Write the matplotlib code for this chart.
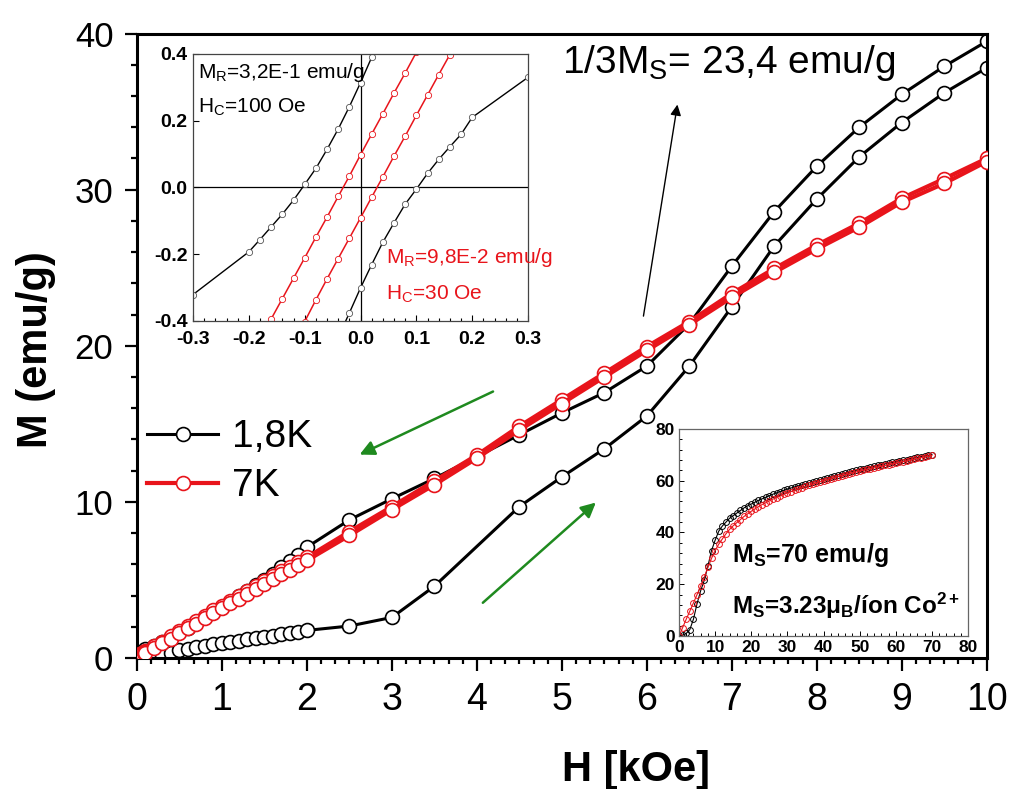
import matplotlib
matplotlib.use("Agg")
import matplotlib.pyplot as plt
from matplotlib.ticker import MultipleLocator, AutoMinorLocator, FixedLocator, FixedFormatter
from matplotlib.lines import Line2D

plt.rcParams['font.family'] = ['Liberation Sans', 'DejaVu Sans']
plt.rcParams['mathtext.fontset'] = 'custom'
plt.rcParams['mathtext.rm'] = 'Liberation Sans'
plt.rcParams['mathtext.it'] = 'Liberation Sans:italic'
plt.rcParams['mathtext.bf'] = 'Liberation Sans:bold'

# ---------------- main panel: M(H) at 1.8 K and 7 K ----------------
# 1.8 K, first magnetisation (virgin) curve
h_18_up = [0.0, 0.1, 0.2, 0.3, 0.4, 0.5, 0.6, 0.7, 0.8, 0.9, 1.0,
           1.1, 1.2, 1.3, 1.4, 1.5, 1.6, 1.7, 1.8, 1.9, 2.0,
           2.5, 3.0, 3.5, 4.5, 5.0, 5.5, 6.0, 6.5, 7.0, 7.5, 8.0, 8.5, 9.0, 9.5, 10.0]
m_18_up = [0.0, 0.02, 0.08, 0.2, 0.35, 0.5, 0.61, 0.71, 0.8, 0.88, 0.95,
           1.03, 1.11, 1.19, 1.27, 1.35, 1.43, 1.51, 1.59, 1.68, 1.77,
           2.05, 2.6, 4.6, 9.7, 11.6, 13.4, 15.5, 18.7, 22.5, 26.4, 29.4, 32.1, 34.3, 36.2, 37.8]

# 1.8 K, decreasing field branch
h_18_down = [10.0, 9.5, 9.0, 8.5, 8.0, 7.5, 7.0, 6.5, 6.0, 5.5, 5.0, 4.5, 4.0, 3.5, 3.0, 2.5,
             2.0, 1.9, 1.8, 1.7, 1.6, 1.5, 1.4, 1.3, 1.2, 1.1, 1.0,
             0.9, 0.8, 0.7, 0.6, 0.5, 0.4, 0.3, 0.2, 0.1, 0.0]
m_18_down = [39.5, 37.9, 36.1, 34.0, 31.5, 28.6, 25.1, 21.4, 18.7, 17.0, 15.7, 14.3, 12.9, 11.5, 10.2, 8.85,
             7.1, 6.6, 6.2, 5.8, 5.4, 5.0, 4.65, 4.3, 3.95, 3.6, 3.3,
             2.95, 2.6, 2.3, 1.95, 1.65, 1.35, 1.05, 0.8, 0.55, 0.35]

# 7 K, increasing field branch
h_7_up = [0.0, 0.02, 0.04, 0.06, 0.08, 0.1, 0.2, 0.3, 0.4, 0.5, 0.6, 0.7, 0.8, 0.9, 1.0,
          1.1, 1.2, 1.3, 1.4, 1.5, 1.6, 1.7, 1.8, 1.9, 2.0,
          2.5, 3.0, 3.5, 4.0, 4.5, 5.0, 5.5, 6.0, 6.5, 7.0, 7.5, 8.0, 8.5, 9.0, 9.5, 10.0]
m_7_up = [0.05, 0.1, 0.17, 0.23, 0.29, 0.35, 0.65, 0.95, 1.25, 1.6, 1.9, 2.2, 2.55, 2.9, 3.2,
          3.5, 3.8, 4.1, 4.45, 4.75, 5.05, 5.35, 5.65, 5.95, 6.25,
          7.85, 9.5, 11.1, 12.8, 14.6, 16.3, 18.0, 19.7, 21.35, 23.1, 24.7, 26.2, 27.6, 29.2, 30.4, 31.8]

# 7 K, decreasing field branch
h_7_down = [10.0, 9.5, 9.0, 8.5, 8.0, 7.5, 7.0, 6.5, 6.0, 5.5, 5.0, 4.5, 4.0, 3.5, 3.0, 2.5,
            2.0, 1.9, 1.8, 1.7, 1.6, 1.5, 1.4, 1.3, 1.2, 1.1, 1.0,
            0.9, 0.8, 0.7, 0.6, 0.5, 0.4, 0.3, 0.2, 0.1, 0.08, 0.06, 0.04, 0.02, 0.0]
m_7_down = [32.0, 30.7, 29.45, 27.85, 26.45, 24.95, 23.35, 21.55, 19.95, 18.25, 16.55, 14.85, 13.0, 11.35, 9.7, 8.1,
            6.45, 6.15, 5.85, 5.55, 5.25, 4.95, 4.6, 4.3, 4.0, 3.65, 3.35,
            3.05, 2.7, 2.35, 2.05, 1.7, 1.38, 1.05, 0.75, 0.45, 0.4, 0.34, 0.28, 0.22, 0.16]

legend_labels = ['1,8K', '7K']

# ---------------- inset: low-field hysteresis ----------------
loop_h_18_desc = [-0.30, -0.20, -0.18, -0.16, -0.14, -0.12, -0.10, -0.08, -0.06, -0.04, -0.02, 0.00, 0.02, 0.04]
loop_m_18_desc = [-0.321, -0.193, -0.156, -0.118, -0.080, -0.038, 0.009, 0.057, 0.114, 0.175, 0.242, 0.314, 0.390, 0.470]
loop_h_18_asc = [-0.04, -0.02, 0.00, 0.02, 0.04, 0.06, 0.08, 0.10, 0.12, 0.14, 0.16, 0.18, 0.20, 0.30]
loop_m_18_asc = [-0.450, -0.376, -0.301, -0.231, -0.164, -0.106, -0.050, -0.005, 0.042, 0.084, 0.122, 0.159, 0.210, 0.330]

loop_h_7_desc = [-0.16, -0.14, -0.12, -0.10, -0.08, -0.06, -0.04, -0.02, 0.00, 0.02, 0.04, 0.06, 0.08, 0.10]
loop_m_7_desc = [-0.394, -0.333, -0.272, -0.211, -0.149, -0.089, -0.027, 0.034, 0.098, 0.160, 0.221, 0.283, 0.343, 0.405]
loop_h_7_asc = [-0.10, -0.08, -0.06, -0.04, -0.02, 0.00, 0.02, 0.04, 0.06, 0.08, 0.10, 0.12, 0.14, 0.16]
loop_m_7_asc = [-0.402, -0.337, -0.274, -0.213, -0.152, -0.091, -0.029, 0.032, 0.094, 0.154, 0.216, 0.277, 0.338, 0.398]

loop_xticks = [-0.3, -0.2, -0.1, 0.0, 0.1, 0.2, 0.3]
loop_xlabels = ['-0.3', '-0.2', '-0.1', '0.0', '0.1', '0.2', '0.3']
loop_yticks = [-0.4, -0.2, 0.0, 0.2, 0.4]
loop_ylabels = ['-0.4', '-0.2', '0.0', '0.2', '0.4']

# ---------------- inset: high-field magnetisation up to 70 kOe ----------------
hf_h = list(range(0, 71))
hf_m_18 = [0.0, 0.3, 1.0, 2.5, 6.5, 12.5, 17.5, 21.5, 27.0, 33.0, 37.0, 40.5, 42.5, 44.0, 45.5, 46.5,
           47.5, 48.5, 49.5, 50.3, 51.0, 51.7, 52.4, 53.0, 53.6, 54.2, 54.8, 55.3, 55.8, 56.3, 56.8,
           57.2, 57.6, 58.0, 58.4, 58.8, 59.2, 59.6, 60.0, 60.4, 60.8, 61.2, 61.6, 62.0, 62.3, 62.7,
           63.0, 63.4, 63.7, 64.0, 64.4, 64.7, 65.0, 65.3, 65.6, 65.9, 66.2, 66.5, 66.8, 67.1, 67.4,
           67.7, 68.0, 68.2, 68.5, 68.8, 69.0, 69.3, 69.6, 69.8, 70.1]
hf_m_7 = [0.0, 3.2, 6.5, 9.6, 12.8, 16.0, 19.3, 22.8, 26.5, 30.0, 33.0, 35.5, 37.5, 39.5, 41.2, 42.6,
          43.8, 45.0, 46.2, 47.2, 48.2, 49.1, 50.0, 50.8, 51.5, 52.2, 52.9, 53.5, 54.1, 54.7, 55.3,
          55.8, 56.3, 56.8, 57.3, 57.8, 58.3, 58.7, 59.2, 59.6, 60.0, 60.4, 60.8, 61.2, 61.6, 62.0,
          62.4, 62.7, 63.1, 63.4, 63.8, 64.1, 64.4, 64.7, 65.0, 65.3, 65.6, 65.9, 66.2, 66.5, 66.8,
          67.1, 67.4, 67.7, 68.0, 68.3, 68.6, 68.9, 69.2, 69.5, 69.8]
hf_xticks = list(range(0, 81, 10))
hf_yticks = list(range(0, 81, 20))

RED = '#e8141b'
GREEN = '#1f8a1f'

fig = plt.figure(figsize=(10.11, 7.89), dpi=100)
ax = fig.add_axes([0.1355, 0.166, 0.8405, 0.7915])

mk = dict(marker='o', markersize=10, markerfacecolor='white', markeredgewidth=1.2)
ax.plot(h_18_down, m_18_down, color='black', lw=2.2, markeredgecolor='black', zorder=2, **mk)
ax.plot(h_18_up, m_18_up, color='black', lw=2.2, markeredgecolor='black', zorder=2, **mk)
ax.plot(h_7_down, m_7_down, color=RED, lw=3.0, markeredgecolor=RED, zorder=3, **mk)
ax.plot(h_7_up, m_7_up, color=RED, lw=3.0, markeredgecolor=RED, zorder=3, **mk)

ax.set_xlim(0, 10)
ax.set_ylim(0, 40)
ax.set_xticks(range(0, 11))
ax.set_yticks([0, 10, 20, 30, 40])
ax.xaxis.set_minor_locator(AutoMinorLocator(6))
ax.yaxis.set_minor_locator(AutoMinorLocator(5))
ax.tick_params(which='both', direction='out', top=False, right=False, width=1.6)
ax.tick_params(which='major', length=9)
ax.tick_params(which='minor', length=4.5)
ax.tick_params(axis='x', labelsize=27, pad=8)
ax.tick_params(axis='y', labelsize=25, pad=8)
for s in ax.spines.values():
    s.set_linewidth(2.2)

ax.set_xlabel('H [kOe]', fontsize=30, fontweight='bold')
ax.set_ylabel('M (emu/g)', fontsize=30, fontweight='bold')
ax.xaxis.set_label_coords(0.5875, -0.148)
ax.yaxis.set_label_coords(-0.095, 0.494)

handles = [Line2D([], [], color='black', lw=2.2, markeredgecolor='black', **mk),
           Line2D([], [], color=RED, lw=3.0, markeredgecolor=RED, **mk)]
ax.legend(handles, legend_labels, loc='upper left', bbox_to_anchor=(0.0118, 0.382),
          frameon=False, fontsize=28, handlelength=1.83, handletextpad=0.36,
          labelspacing=0.33, borderpad=0, borderaxespad=0, numpoints=1)

arrow_green = dict(arrowstyle='-|>', color=GREEN, lw=1.8, mutation_scale=22, shrinkA=0, shrinkB=0)
ax.annotate('', xy=(2.62, 13.03), xytext=(4.19, 17.07), arrowprops=arrow_green)
ax.annotate('', xy=(5.40, 9.96), xytext=(4.07, 3.54), arrowprops=arrow_green)
ax.annotate('', xy=(6.36, 35.45), xytext=(5.96, 21.9),
            arrowprops=dict(arrowstyle='-|>', color='black', lw=1.0, mutation_scale=16,
                            shrinkA=0, shrinkB=0))
ax.text(5.0, 37.5, r'1/3M$_\mathregular{S}$= 23,4 emu/g', fontsize=28, ha='left', va='baseline')

# ---- hysteresis inset ----
ax1 = fig.add_axes([0.1909, 0.5932, 0.3314, 0.3384])
smk = dict(marker='o', markersize=4.5, markerfacecolor='white', markeredgewidth=0.6)
ax1.axhline(0, color='black', lw=0.9, zorder=1)
ax1.axvline(0, color='black', lw=0.9, zorder=1)
ax1.plot(loop_h_18_desc, loop_m_18_desc, color='black', lw=1.0, markeredgecolor='#555555', **smk)
ax1.plot(loop_h_18_asc, loop_m_18_asc, color='black', lw=1.0, markeredgecolor='#555555', **smk)
ax1.plot(loop_h_7_desc, loop_m_7_desc, color=RED, lw=1.1, markeredgecolor=RED, **smk)
ax1.plot(loop_h_7_asc, loop_m_7_asc, color=RED, lw=1.1, markeredgecolor=RED, **smk)
ax1.set_xlim(-0.3, 0.3)
ax1.set_ylim(-0.4, 0.4)
ax1.xaxis.set_major_locator(FixedLocator(loop_xticks))
ax1.xaxis.set_major_formatter(FixedFormatter(loop_xlabels))
ax1.yaxis.set_major_locator(FixedLocator(loop_yticks))
ax1.yaxis.set_major_formatter(FixedFormatter(loop_ylabels))
ax1.xaxis.set_minor_locator(MultipleLocator(0.02))
ax1.tick_params(which='both', direction='in', width=0.8, labelsize=14)
ax1.tick_params(axis='x', pad=7)
ax1.tick_params(axis='y', pad=4)
ax1.tick_params(which='major', length=4)
ax1.tick_params(which='minor', length=2.5)
for s in ax1.spines.values():
    s.set_linewidth(0.9)
    s.set_color('#444444')
ax1.text(0.015, 0.91, r'M$_\mathregular{R}$=3,2E-1 emu/g', transform=ax1.transAxes,
         fontsize=15, va='baseline')
ax1.text(0.015, 0.779, r'H$_\mathregular{C}$=100 Oe', transform=ax1.transAxes,
         fontsize=15, va='baseline')
ax1.text(0.576, 0.217, r'M$_\mathregular{R}$=9,8E-2 emu/g', transform=ax1.transAxes,
         fontsize=15, va='baseline', color=RED)
ax1.text(0.576, 0.079, r'H$_\mathregular{C}$=30 Oe', transform=ax1.transAxes,
         fontsize=15, va='baseline', color=RED)

# ---- high-field inset ----
ax2 = fig.add_axes([0.6716, 0.1939, 0.2859, 0.2624])
hmk = dict(marker='o', markersize=4.2, markerfacecolor='none', markeredgewidth=0.7)
ax2.plot(hf_h, hf_m_18, color='black', lw=0.8, markeredgecolor='black', **hmk)
ax2.plot(hf_h, hf_m_7, color=RED, lw=0.8, markeredgecolor=RED, **hmk)
ax2.set_xlim(0, 80)
ax2.set_ylim(0, 80)
ax2.xaxis.set_major_locator(FixedLocator(hf_xticks))
ax2.yaxis.set_major_locator(FixedLocator(hf_yticks))
ax2.xaxis.set_minor_locator(MultipleLocator(2))
ax2.yaxis.set_minor_locator(MultipleLocator(4))
ax2.tick_params(which='both', direction='in', width=0.7, labelsize=12.5, pad=3)
ax2.tick_params(which='major', length=3.5)
ax2.tick_params(which='minor', length=2)
for s in ax2.spines.values():
    s.set_linewidth(0.9)
    s.set_color('#666666')
ax2.text(0.183, 0.359, r'M$_\mathregular{S}$=70 emu/g', transform=ax2.transAxes,
         fontsize=18, fontweight='bold', va='baseline')
ax2.text(0.183, 0.106, r'M$_\mathregular{S}$=3.23μ$_\mathregular{B}$/íon Co$^\mathregular{2+}$',
         transform=ax2.transAxes, fontsize=17.5, fontweight='bold', va='baseline')

# bold tick labels for both insets, applied once every tick exists
fig.canvas.draw()
for a in (ax1, ax2):
    for lab in a.get_xticklabels() + a.get_yticklabels():
        lab.set_fontweight('bold')

fig.savefig('out.png', dpi=100)
